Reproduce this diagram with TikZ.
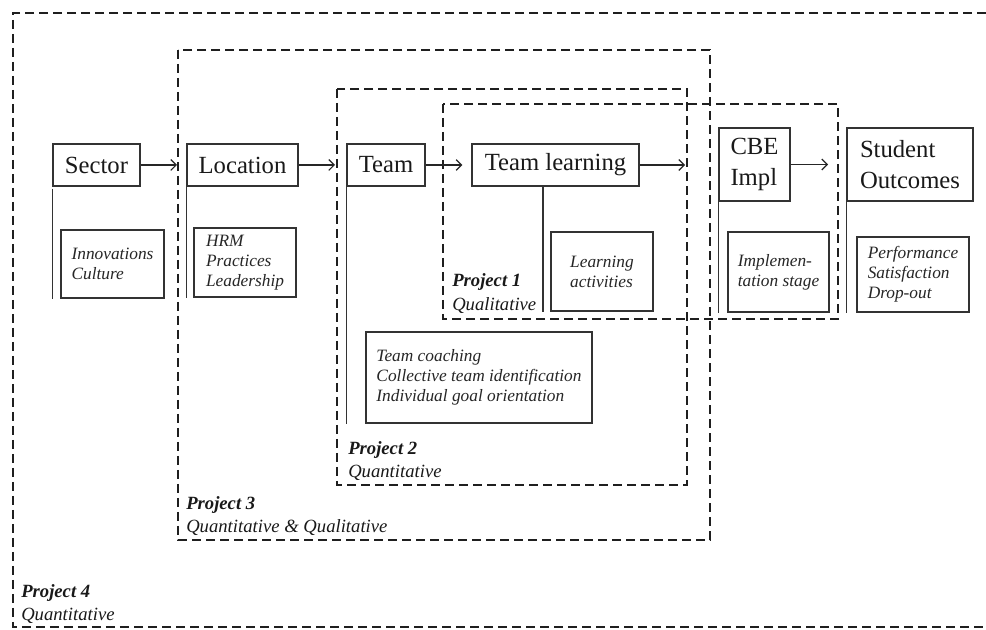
\documentclass[tikz,border=0pt]{standalone}
\usepackage{fontspec}
\setmainfont{Liberation Serif}
\usetikzlibrary{arrows.meta}
\begin{document}
\begin{tikzpicture}[x=0.75pt,y=-0.75pt,
 proj/.style={line width=2pt, dash pattern=on 6.5pt off 4pt, black!88},
 mainbox/.style={draw=black!80, line width=1pt, font=\fontsize{18.5}{23}\selectfont, inner sep=0pt, text=black!90},
 subbox/.style={draw=black!80, line width=1pt, font=\itshape\fontsize{13}{15}\selectfont, align=left, inner sep=0pt, text=black!85},
 link/.style={line width=0.9pt, black!80},
 arr/.style={line width=0.9pt, black!85, -{Straight Barb[length=4pt,width=8pt]}},
 plabel/.style={font=\itshape\fontsize{14}{17.5}\selectfont, align=left, anchor=west, inner sep=0pt, text=black!90}]

\clip (0,0) rectangle (986,630);
\fill[white] (0,0) rectangle (986,630);

% project frames
\draw[proj] (1000,13) -- (13,13) -- (13,627) -- (1000,627);
\draw[proj] (178,50) rectangle (710,540);
\draw[proj] (337,89) rectangle (687,485);
\draw[proj] (443,104) rectangle (838,319);

% main nodes
\node[mainbox, minimum width=65.25pt, minimum height=31.5pt] (sector) at (96.5,165) {Sector};
\node[mainbox, minimum width=83.25pt, minimum height=31.5pt] (loc) at (242.5,165) {Location};
\node[mainbox, minimum width=58.5pt, minimum height=31.5pt] (team) at (386,165) {Team};
\node[mainbox, minimum width=125.25pt, minimum height=31.5pt] (tl) at (555.5,165) {Team learning};
\node[mainbox, minimum width=53.25pt, minimum height=54.75pt, align=left] (cbe) at (754.5,164.5) {CBE\\Impl};
\node[mainbox, minimum width=94.5pt, minimum height=54.75pt, align=left] (so) at (910,164.5) {Student\\Outcomes};

% sub boxes
\node[subbox, minimum width=77.25pt, minimum height=51pt] (inov) at (112.5,264) {Innovations\\Culture};
\node[subbox, minimum width=76.5pt, minimum height=51.75pt] (hrm) at (245,262.5) {HRM\\Practices\\Leadership};
\node[subbox, minimum width=76.5pt, minimum height=59.25pt] (learn) at (602,271.5) {Learning\\activities};
\node[subbox, minimum width=75.75pt, minimum height=60pt] (impl) at (778.5,272) {Implemen-\\tation stage};
\node[subbox, minimum width=84pt, minimum height=56.25pt] (perf) at (913,274.5) {Performance\\Satisfaction\\Drop-out};
\node[subbox, minimum width=169.5pt, minimum height=68.25pt] (coach) at (479,377.5) {Team coaching\\Collective team identification\\Individual goal orientation};

% vertical links
\draw[link] ([yshift=-1.5pt]sector.south west) -- (sector.south west |- inov.south);
\draw[link] (loc.south west) -- (loc.south west |- hrm.south);
\draw[link] (team.south west) -- (team.south west |- coach.south);
\draw[link] ([xshift=-9.4pt]tl.south) -- ([xshift=-9.4pt]tl.south |- learn.south);
\draw[link] (cbe.south west) -- (cbe.south west |- impl.south);
\draw[link] (so.south west) -- (so.south west |- perf.south);

% arrows
\coordinate (e1) at (177,165);
\coordinate (e2) at (335,165);
\coordinate (e4) at (685,165);
\coordinate (e5) at (828,164.5);
\draw[arr] (sector) -- (e1);
\draw[arr] (loc) -- (e2);
\draw[arr, shorten >=6.75pt] (team) -- (tl);
\draw[arr] (tl) -- (e4);
\draw[arr] (cbe) -- (e5);

% project labels
\node[plabel] (p1) at (452,293.5) {\textbf{Project 1}\\Qualitative};
\node[plabel] (p2) at (348,461) {\textbf{Project 2}\\Quantitative};
\node[plabel] (p3) at (186,516) {\textbf{Project 3}\\Quantitative \& Qualitative};
\node[plabel] (p4) at (21,604) {\textbf{Project 4}\\Quantitative};
\end{tikzpicture}
\end{document}
